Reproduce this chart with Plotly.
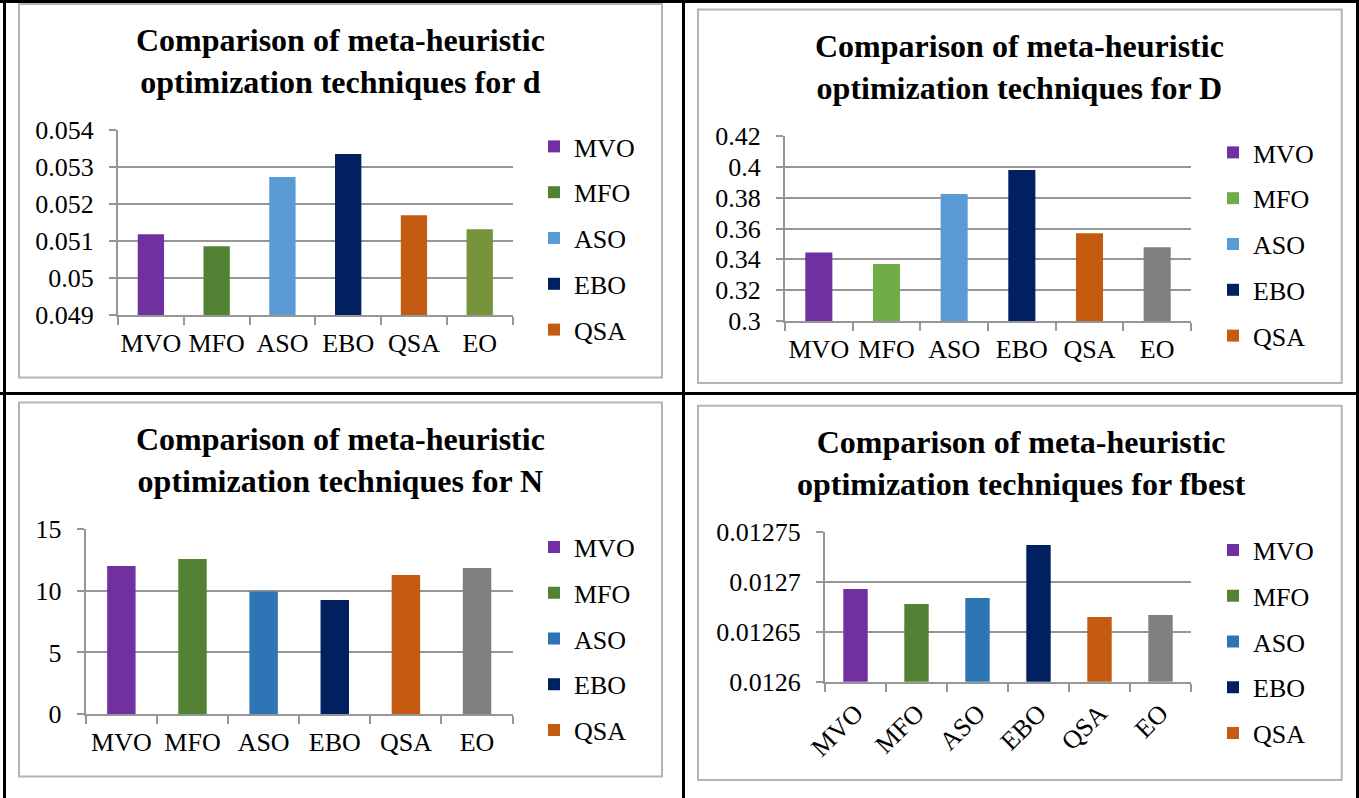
import plotly.graph_objects as go

W, H = 1359, 798

categories = ["MVO", "MFO", "ASO", "EBO", "QSA", "EO"]

values_d = [0.051184, 0.050859, 0.052727, 0.05335, 0.051699, 0.05132]
values_D = [0.3445, 0.337, 0.3824, 0.398, 0.3569, 0.3478]
values_N = [12.02, 12.59, 9.94, 9.26, 11.29, 11.86]
values_fbest = [0.012693, 0.012678, 0.012684, 0.0127373, 0.012665, 0.012667]

colors_d = ["#7030A0", "#548235", "#5B9BD5", "#002060", "#C55A11", "#77933C"]
colors_D = ["#7030A0", "#70AD47", "#5B9BD5", "#002060", "#C55A11", "#7F7F7F"]
colors_N = ["#7030A0", "#548235", "#2E75B6", "#002060", "#C55A11", "#7F7F7F"]
colors_fbest = ["#7030A0", "#548235", "#2E75B6", "#002060", "#C55A11", "#7F7F7F"]

ticks_d = [0.049, 0.050, 0.051, 0.052, 0.053, 0.054]
ticklabels_d = ["0.049", "0.05", "0.051", "0.052", "0.053", "0.054"]
ticks_D = [0.30, 0.32, 0.34, 0.36, 0.38, 0.40, 0.42]
ticklabels_D = ["0.3", "0.32", "0.34", "0.36", "0.38", "0.4", "0.42"]
ticks_N = [0, 5, 10, 15]
ticklabels_N = ["0", "5", "10", "15"]
ticks_fbest = [0.0126, 0.01265, 0.0127, 0.01275]
ticklabels_fbest = ["0.0126", "0.01265", "0.0127", "0.01275"]

titles = [
    "Comparison of meta-heuristic<br>optimization techniques for d",
    "Comparison of meta-heuristic<br>optimization techniques for D",
    "Comparison of meta-heuristic<br>optimization techniques for N",
    "Comparison of meta-heuristic<br>optimization techniques for fbest",
]

FONT = "Liberation Serif, Times New Roman, serif"
GRID = "#969696"
TICKSIZE = 26


def px(x):
    return x / W


def py(y):
    return 1 - y / H


charts = [
    dict(vals=values_d, cols=colors_d, tv=ticks_d, tt=ticklabels_d,
         area=(118, 512.6, 130, 315), box=(19, 4, 662, 377.5), tcen=(340.5, 61),
         leg=(534, 123), angle=0),
    dict(vals=values_D, cols=colors_D, tv=ticks_D, tt=ticklabels_D,
         area=(785, 1191, 136, 321), box=(698, 9.5, 1341.7, 383), tcen=(1020, 67),
         leg=(1213, 129), angle=0),
    dict(vals=values_N, cols=colors_N, tv=ticks_N, tt=ticklabels_N,
         area=(85.8, 512.6, 529.3, 714), box=(19, 402.5, 662, 776.5), tcen=(340.5, 460),
         leg=(534, 523.5), angle=0),
    dict(vals=values_fbest, cols=colors_fbest, tv=ticks_fbest, tt=ticklabels_fbest,
         area=(825, 1191, 532.3, 681.7), box=(698, 405.7, 1341.7, 780), tcen=(1021, 462.5),
         leg=(1213, 526.5), angle=-45),
]

fig = go.Figure()
shapes = []
annotations = []
layout_axes = {}

for i, c in enumerate(charts, start=1):
    xa = "x" if i == 1 else f"x{i}"
    ya = "y" if i == 1 else f"y{i}"
    lg = "legend" if i == 1 else f"legend{i}"
    for j, cat in enumerate(categories):
        fig.add_trace(go.Bar(
            x=[cat], y=[c["vals"][j]], name=cat,
            marker=dict(color=c["cols"][j], line=dict(width=0)),
            width=0.4, xaxis=xa, yaxis=ya, legend=lg,
            legendgroup=f"g{i}_{j}", showlegend=(cat != "EO"),
        ))
    x0, x1, yt, yb = c["area"]
    xkey = "xaxis" if i == 1 else f"xaxis{i}"
    ykey = "yaxis" if i == 1 else f"yaxis{i}"
    layout_axes[xkey] = dict(
        domain=[px(x0), px(x1)], anchor=ya, type="category", automargin=False,
        categoryorder="array", categoryarray=categories,
        showline=True, linecolor=GRID, linewidth=2,
        ticks="outside", tickson="boundaries", ticklen=8, tickwidth=2, tickcolor=GRID,
        showgrid=False, tickangle=c["angle"],
        tickfont=dict(family=FONT, size=TICKSIZE, color="#000000"),
        ticklabelstandoff=4,
    )
    layout_axes[ykey] = dict(
        domain=[py(yb), py(yt)], anchor=xa, automargin=False,
        range=[c["tv"][0], c["tv"][-1]], tickvals=c["tv"], ticktext=c["tt"],
        showline=True, linecolor=GRID, linewidth=2,
        ticks="outside", ticklen=7, tickwidth=2, tickcolor=GRID,
        showgrid=True, gridcolor=GRID, gridwidth=2, zeroline=False,
        tickfont=dict(family=FONT, size=TICKSIZE, color="#000000"),
        ticklabelstandoff=10,
    )
    lx, ly = c["leg"]
    layout_axes[lg] = dict(
        x=px(lx), y=py(ly), xanchor="left", yanchor="top",
        font=dict(family=FONT, size=TICKSIZE, color="#000000"),
        bgcolor="rgba(0,0,0,0)", borderwidth=0, tracegroupgap=9,
        traceorder="grouped",
    )
    bx0, by0, bx1, by1 = c["box"]
    shapes.append(dict(type="rect", xref="paper", yref="paper",
                       x0=px(bx0), x1=px(bx1), y0=py(by1), y1=py(by0),
                       line=dict(color="#B4B4B4", width=2), fillcolor="rgba(0,0,0,0)"))
    tx, ty = c["tcen"]
    annotations.append(dict(
        text="<b>" + titles[i - 1] + "</b>", xref="paper", yref="paper",
        x=px(tx), y=py(ty), xanchor="center", yanchor="middle", showarrow=False,
        font=dict(family=FONT, size=32, color="#000000"),
    ))

# table borders
for (x0, y0, x1, y1) in [(0, 1.5, W, 1.5), (4.5, 0, 4.5, H), (1357.5, 0, 1357.5, H),
                         (683.5, 0, 683.5, H), (0, 393.5, W, 393.5)]:
    shapes.append(dict(type="line", xref="paper", yref="paper",
                       x0=px(x0), x1=px(x1), y0=py(y0), y1=py(y1),
                       line=dict(color="#000000", width=3)))

fig.update_layout(
    template="none",
    width=W, height=H, margin=dict(l=0, r=0, t=0, b=0, autoexpand=False),
    paper_bgcolor="#FFFFFF", plot_bgcolor="#FFFFFF",
    barmode="overlay", bargap=0.6, showlegend=True,
    shapes=shapes, annotations=annotations,
    **layout_axes,
)

fig.write_html(
    "out.html",
    config={"displayModeBar": False},
    post_script="document.body.style.margin='0';document.body.style.overflow='hidden';",
)
